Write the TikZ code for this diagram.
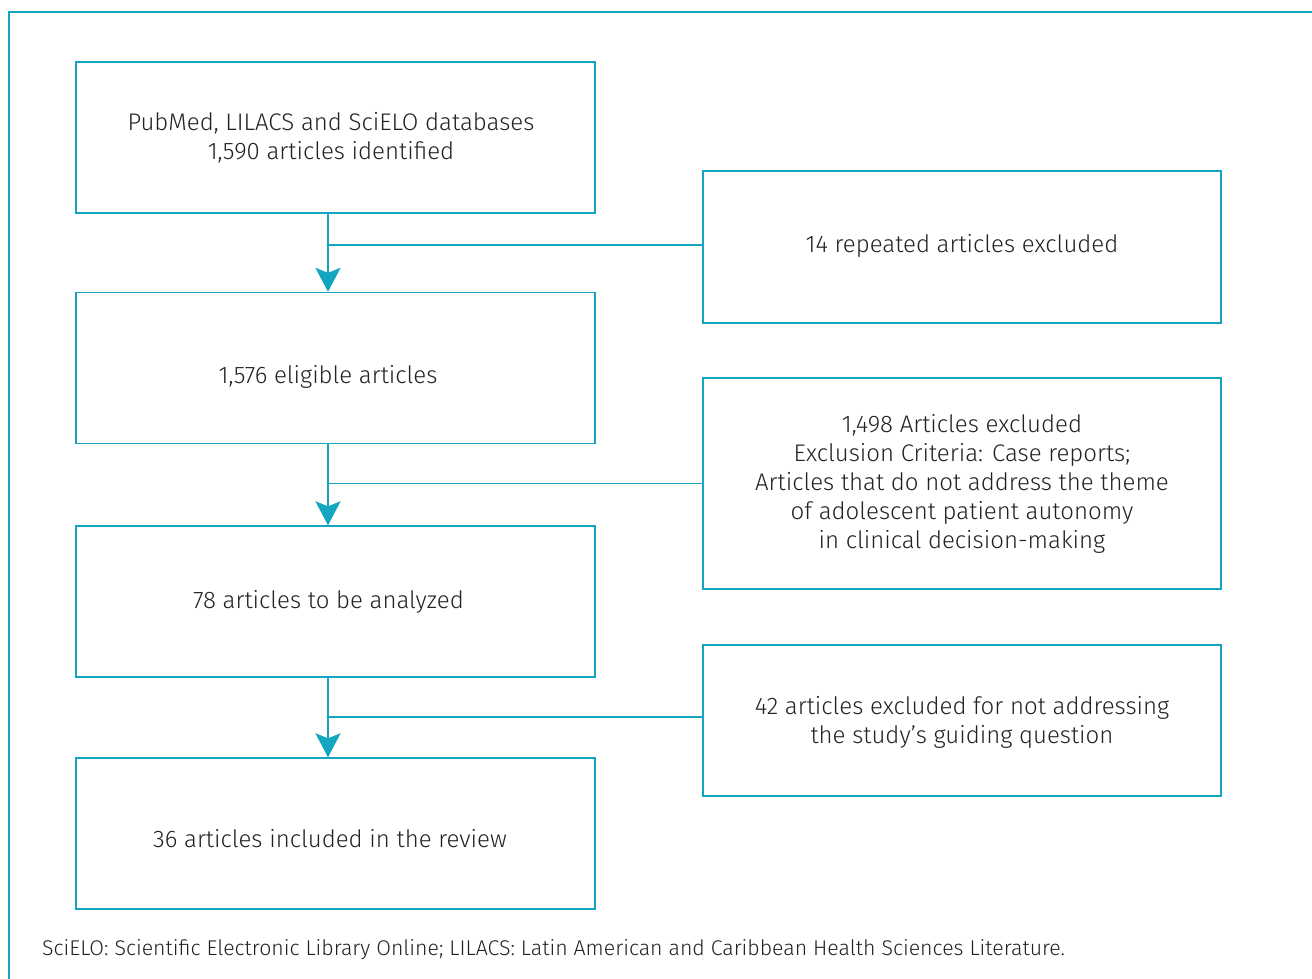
\documentclass[tikz,border=0pt]{standalone}
\usepackage{fontspec}
\setmainfont{Fira Sans}[UprightFont=* Light]
\usetikzlibrary{arrows.meta}
\definecolor{teal1}{RGB}{20,165,192}
\definecolor{txt}{RGB}{34,34,34}
\begin{document}
\begin{tikzpicture}[x=1pt,y=-1pt,
  box/.style={draw=teal1,line width=1.3pt,minimum width=519pt,minimum height=151pt,inner sep=0pt},
  lbl/.style={align=center,text=txt,inner sep=0pt,font=\fontsize{24}{29}\selectfont},
  arr/.style={draw=teal1,line width=2.6pt,-{Stealth[length=24pt,width=25pt,inset=5pt]}},
  branch/.style={draw=teal1,line width=1.3pt}]
\useasboundingbox (0,0) rectangle (1312,979);
\draw[teal1,line width=1.8pt] (9,979) -- (9,12) -- (1312,12);
\node[box] (b1) at (335.5,137.5) {};
\node[box] (b2) at (335.5,368) {};
\node[box] (b3) at (335.5,601.5) {};
\node[box] (b4) at (335.5,833.5) {};
\node[box,minimum width=518pt,minimum height=152pt] (r1) at (962,247) {};
\node[box,minimum width=518pt,minimum height=211pt] (r2) at (962,483.5) {};
\node[box,minimum width=518pt,minimum height=151pt] (r3) at (962,720.5) {};
\node[lbl] (t1) at (331,138) {PubMed, LILACS and SciELO databases\\1,590 articles identified};
\node[lbl] (t2) at (328,377) {1,576 eligible articles};
\node[lbl] (t3) at (328.5,602) {78 articles to be analyzed};
\node[lbl] (t4) at (330,839) {36 articles included in the review};
\node[lbl] (s1) at (962,246) {14 repeated articles excluded};
\node[lbl] (s2) at (962,484) {1,498 Articles excluded\\Exclusion Criteria: Case reports;\\Articles that do not address the theme\\of adolescent patient autonomy\\in clinical decision-making};
\node[lbl] (s3) at (962,722.5) {42 articles excluded for not addressing\\the study's guiding question};
\coordinate (ax) at (328,0);
\draw[arr] (b1.south -| ax) -- (b2.north -| ax);
\draw[arr] (b2.south -| ax) -- (b3.north -| ax);
\draw[arr] (b3.south -| ax) -- (b4.north -| ax);
\draw[branch] (ax |- 0,245) -- (r1.west |- 0,245);
\draw[branch] (ax |- r2.west) -- (r2.west);
\draw[branch] (ax |- 0,717) -- (r3.west |- 0,717);
\node[anchor=west,text=txt,inner sep=0pt,font=\fontsize{21.3}{25}\selectfont] (cap) at (42,950) {SciELO: Scientific Electronic Library Online; LILACS: Latin American and Caribbean Health Sciences Literature.};
\end{tikzpicture}
\end{document}
